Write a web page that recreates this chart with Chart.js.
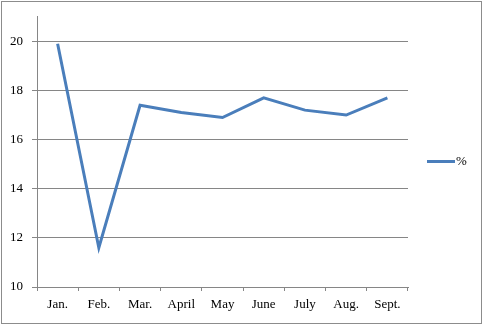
<!DOCTYPE html>
<html>
<head>
<meta charset="utf-8">
<script src="https://cdn.jsdelivr.net/npm/chart.js@4/dist/chart.umd.min.js"></script>
<style>
  html, body { margin: 0; padding: 0; background: #fff; }
  #wrap { width: 484px; height: 326px; position: relative; }
</style>
</head>
<body>
<div id="wrap"><canvas id="chart" width="484" height="326"></canvas></div>
<script>
// データ
const months = ['Jan.', 'Feb.', 'Mar.', 'April', 'May', 'June', 'July', 'Aug.', 'Sept.'];
const percentValues = [19.9, 11.6, 17.4, 17.1, 16.9, 17.7, 17.2, 17.0, 17.7];
const seriesName = '%';
const yMin = 10;
const yMax = 21;
const yStep = 2;

const lineColor = '#4A7EBB';
const gridColor = '#868686';
const fontFamily = "'Liberation Serif', 'DejaVu Serif', serif";

// 外枠と凡例を描く
const frameAndLegend = {
  id: 'frameAndLegend',
  beforeDraw(chart) {
    const ctx = chart.ctx;
    ctx.save();
    ctx.fillStyle = '#fff';
    ctx.fillRect(0, 0, chart.width, chart.height);
    ctx.strokeStyle = '#8c8c8c';
    ctx.lineWidth = 1;
    ctx.strokeRect(1.5, 1.5, 480, 322);
    ctx.restore();
  },
  afterDraw(chart) {
    const ctx = chart.ctx;
    const ds = chart.data.datasets[0];
    ctx.save();
    ctx.strokeStyle = ds.borderColor;
    ctx.lineWidth = 3;
    ctx.beginPath();
    ctx.moveTo(427, 161.5);
    ctx.lineTo(455, 161.5);
    ctx.stroke();
    ctx.fillStyle = '#000';
    ctx.font = '13px ' + fontFamily;
    ctx.textAlign = 'left';
    ctx.textBaseline = 'middle';
    ctx.fillText(ds.label, 456, 162);
    ctx.restore();
  },
};

new Chart(document.getElementById('chart'), {
  type: 'line',
  data: {
    labels: months,
    datasets: [
      {
        label: seriesName,
        data: percentValues,
        borderColor: lineColor,
        borderWidth: 3,
        pointRadius: 0,
        tension: 0,
        fill: false,
      },
    ],
  },
  options: {
    responsive: false,
    animation: false,
    layout: {
      padding: { left: 0, top: 16, right: 76, bottom: 0 },
    },
    plugins: {
      legend: { display: false },
      tooltip: { enabled: false },
    },
    scales: {
      x: {
        offset: true,
        grid: {
          offset: true,
          drawOnChartArea: false,
          drawTicks: true,
          tickLength: 4,
          color: gridColor,
        },
        border: { color: gridColor },
        ticks: {
          color: '#000',
          padding: 6,
          maxRotation: 0,
          autoSkip: false,
          font: { family: fontFamily, size: 13 },
        },
        afterFit(scale) {
          scale.height = 39;
        },
      },
      y: {
        min: yMin,
        max: yMax,
        grid: {
          color: gridColor,
          tickLength: 5,
        },
        border: { color: gridColor },
        ticks: {
          stepSize: yStep,
          includeBounds: false,
          color: '#000',
          padding: 9,
          font: { family: fontFamily, size: 13 },
        },
        afterFit(scale) {
          scale.width = 37;
        },
      },
    },
  },
  plugins: [frameAndLegend],
});
</script>
</body>
</html>
